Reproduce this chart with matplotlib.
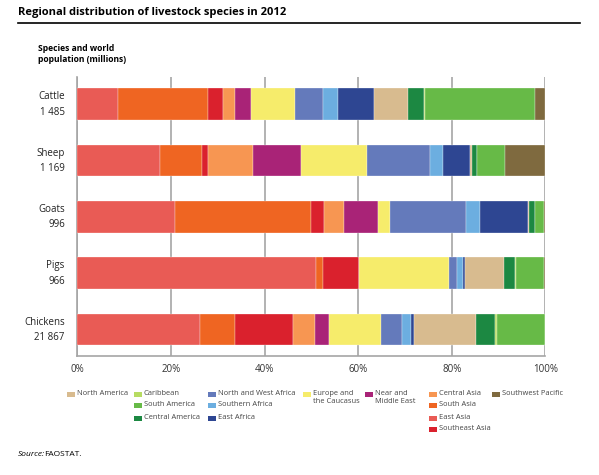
import numpy as np
import matplotlib.pyplot as plt
from matplotlib.patches import Rectangle

plt.rcParams['font.family'] = ['Open Sans', 'DejaVu Sans']

W, H = 599, 475

species = ['Cattle', 'Sheep', 'Goats', 'Pigs', 'Chickens']
population = ['1 485', '1 169', '996', '966', '21 867']

regions = ['East Asia', 'South Asia', 'Southeast Asia', 'Central Asia',
           'Near and Middle East', 'Europe and the Caucasus',
           'North and West Africa', 'Southern Africa', 'East Africa',
           'North America', 'Central America', 'Caribbean',
           'South America', 'Southwest Pacific']

# percentage share of each region, in the order of `regions`
cattle = [8.6, 19.3, 3.3, 2.4, 3.5, 9.5, 6.0, 3.1, 7.7, 7.2, 3.5, 0.1, 23.5, 2.3]
sheep = [17.6, 9.1, 1.2, 9.7, 10.1, 14.2, 13.5, 2.8, 5.7, 0.5, 0.9, 0.2, 5.9, 8.6]
goats = [20.9, 29.0, 2.8, 4.3, 7.2, 2.6, 16.3, 3.0, 10.2, 0.3, 1.1, 0.2, 1.9, 0.2]
pigs = [51.1, 1.3, 7.7, 0.0, 0.1, 19.2, 1.7, 1.3, 0.5, 8.2, 2.5, 0.2, 6.0, 0.2]
chickens = [26.3, 7.4, 12.3, 4.8, 3.0, 11.1, 4.5, 1.9, 0.7, 13.2, 4.1, 0.4, 10.2, 0.1]

colors = {
    'East Asia': '#E95B55', 'South Asia': '#EF6522', 'Southeast Asia': '#DA212D',
    'Central Asia': '#F79652', 'Near and Middle East': '#A92377',
    'Europe and the Caucasus': '#F6EC6B', 'North and West Africa': '#647ABB',
    'Southern Africa': '#6CAEE0', 'East Africa': '#2E4692',
    'North America': '#D8BB8F', 'Central America': '#1C8842',
    'Caribbean': '#B7DC62', 'South America': '#67BA47',
    'Southwest Pacific': '#7F6A3F',
}

shares = np.array([cattle, sheep, goats, pigs, chickens])

fig = plt.figure(figsize=(W / 100, H / 100), dpi=100)


def fx(px):
    return px / W


def fy(py):
    return 1 - py / H


ax = fig.add_axes([fx(77.3), fy(356), fx(545.3) - fx(77.3), fy(77) - fy(356)])

y = np.arange(len(species))
left = np.zeros(len(species))
for i, reg in enumerate(regions):
    ax.barh(y, shares[:, i], left=left, height=0.56, color=colors[reg],
            edgecolor='white', linewidth=0.2, zorder=3)
    left += shares[:, i]

ax.set_xlim(0, 100)
ax.set_ylim(len(species) - 0.53, -0.48)
ax.set_xticks([0, 20, 40, 60, 80, 100])
ax.set_xticklabels(['0%', '20%', '40%', '60%', '80%', '100%'], fontsize=7, color='#333333')
ax.set_yticks([])
ax.tick_params(axis='x', length=0, pad=6)
ax.grid(axis='x', color='#A5A5A5', linewidth=1.2, zorder=0)
for s in ['top', 'right']:
    ax.spines[s].set_visible(False)
for s in ['left', 'bottom']:
    ax.spines[s].set_color('#A5A5A5')
    ax.spines[s].set_linewidth(1.2)

for i, (name, pop) in enumerate(zip(species, population)):
    ax.annotate(name, (0, i), xytext=(-9, 5.2), textcoords='offset points',
                ha='right', va='center', fontsize=7, color='#222222')
    ax.annotate(pop, (0, i), xytext=(-9, -5.8), textcoords='offset points',
                ha='right', va='center', fontsize=7, color='#222222')

# title, rule and axis caption
fig.text(fx(18), fy(12), 'Regional distribution of livestock species in 2012',
         fontsize=8, fontweight='bold', va='center', ha='left')
fig.add_artist(plt.Line2D([fx(18), fx(580)], [fy(22.5), fy(22.5)],
                          color='black', linewidth=1.2))
fig.text(fx(38), fy(54), 'Species and world\npopulation (millions)',
         fontsize=6.1, fontweight='bold', va='center', ha='left', linespacing=1.3)

# legend laid out in columns as in the original
legend_cols = [
    (67, ['North America']),
    (134, ['Caribbean', 'South America', 'Central America']),
    (208, ['North and West Africa', 'Southern Africa', 'East Africa']),
    (303, ['Europe and the Caucasus']),
    (365, ['Near and Middle East']),
    (429, ['Central Asia', 'South Asia', 'East Asia', 'Southeast Asia']),
    (492, ['Southwest Pacific']),
]
legend_text = {'Europe and the Caucasus': 'Europe and\nthe Caucasus',
               'Near and Middle East': 'Near and\nMiddle East'}
row_y = [394.5, 405.3, 418.5, 429.3]
for x0, names in legend_cols:
    for r, name in enumerate(names):
        yc = row_y[r]
        fig.add_artist(Rectangle((fx(x0), fy(yc + 2.5)), 8 / W, 5 / H,
                                 facecolor=colors[name], edgecolor='none',
                                 transform=fig.transFigure))
        label = legend_text.get(name, name)
        fig.text(fx(x0 + 10), fy(yc - 4.3), label, fontsize=5.4, color='#444444',
                 va='top', ha='left', linespacing=1.25)

fig.text(fx(18), fy(455), 'Source:', fontsize=6, style='italic', va='center', ha='left')
fig.text(fx(44.5), fy(455), 'FAOSTAT.', fontsize=6, va='center', ha='left')

fig.savefig('out.png', dpi=100)
